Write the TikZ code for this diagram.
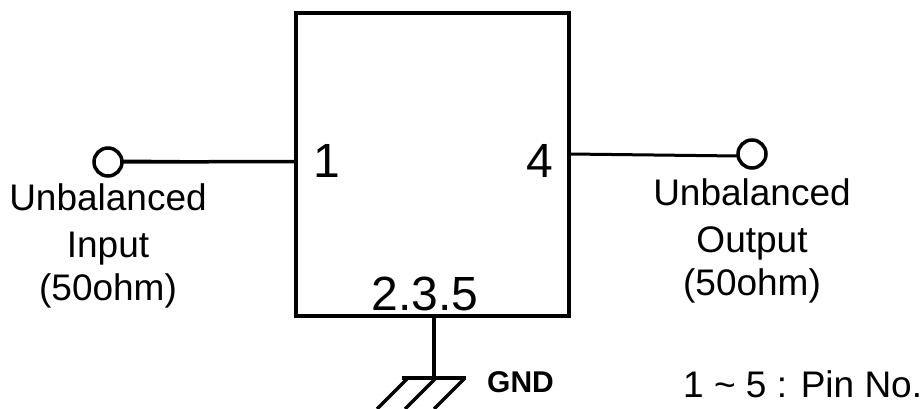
\documentclass[tikz,border=0pt]{standalone}
\usepackage{fontspec}
\setmainfont{Liberation Sans}
\usetikzlibrary{positioning,calc}
\tikzstyle{chipbox} = [
    draw=black,
    line width=3.5pt,
    rectangle,
    outer sep=0pt,
    minimum width=273pt,
    minimum height=303pt
    ]
\tikzstyle{terminal} = [
    draw=black,
    line width=3.5pt,
    circle,
    inner sep=0pt,
    outer sep=0pt,
    minimum size=28pt
    ]
\tikzstyle{wire} = [
    draw=black,
    line width=3.5pt
    ]
\tikzstyle{portlabel} = [
    font=\fontsize{37}{47}\selectfont,
    align=center,
    inner sep=0pt
    ]
\tikzstyle{pinlabel} = [
    font=\fontsize{48}{48}\selectfont,
    inner sep=0pt,
    anchor=base
    ]
\begin{document}
\begin{tikzpicture}[x=1pt,y=-1pt]
\useasboundingbox (0,0) rectangle (922,409);
\node [chipbox] (box) at (432.5,164.5) {};
\node [terminal] (inport) at (108,162) {};
\node [terminal] (outport) at (752,154) {};
% pin numbers
\node [pinlabel] (pinone) at (327,178) {1};
\node [pinlabel] (pinfour) at (540,178) {4};
\node [pinlabel] (pinrest) at (425,310) {2.3.5};
% port names
\node [portlabel, below=7pt of inport] (inname) {Unbalanced\\Input\\[-4pt](50ohm)};
\node [portlabel, below=10pt of outport] (outname) {Unbalanced\\Output\\[-4pt](50ohm)};
% wires
\draw [wire] (inport.east) -- ([yshift=3pt]box.west);
\draw [wire, line width=2pt] ([yshift=1.5pt]inport.east) -- ($(box.west)!0.5!(inport.east)+(0,-2)$);
\draw [wire, line width=3pt] ([yshift=10.5pt]box.east) -- ([yshift=-2pt]outport.west);
% ground
\coordinate (gndtop) at (434,378);
\draw [wire] (box.south -| gndtop) -- (gndtop);
\draw [wire] (402,378) -- (466,378);
\foreach \x in {408,436,465}
    \draw [wire] (\x,378) -- (\x-31,409);
\node [font=\fontsize{30}{32}\selectfont\bfseries, inner sep=0pt, anchor=base west] (gndname) at (487,392) {GND};
\node [font=\fontsize{37}{39}\selectfont, inner sep=0pt, anchor=base west] (legend) at (683,397.5) {1 \textasciitilde\ 5 : Pin No.};
\end{tikzpicture}
\end{document}
